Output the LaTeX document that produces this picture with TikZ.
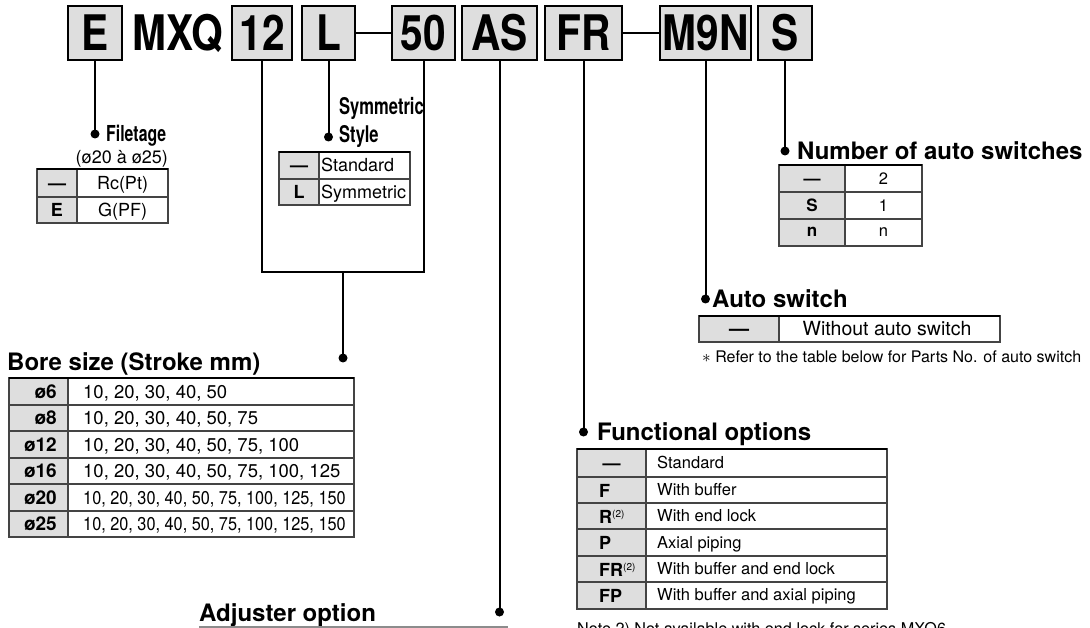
\documentclass[tikz,border=0pt]{standalone}
\usepackage{fontspec}
\setmainfont{TeX Gyre Heros}
\newfontfamily\hcond[FakeStretch=0.83]{TeX Gyre Heros}
\newfontfamily\tcond[FakeStretch=0.72]{TeX Gyre Heros}
\newfontfamily\vcond[FakeStretch=0.88]{TeX Gyre Heros}
\definecolor{boxgray}{HTML}{DEDEDE}
\definecolor{keygray}{HTML}{DEDEDE}
\definecolor{tgray}{HTML}{444444}
\newcommand{\fs}[1]{\fontsize{#1}{#1}\selectfont}
\newcommand{\suptwo}{{\mdseries\fs{10}\raisebox{6pt}{(2)}}}
\begin{document}
\begin{tikzpicture}[x=1pt,y=-1pt,
  hbox/.style={draw, line width=2.5pt, fill=boxgray, inner sep=0pt, minimum height=54pt,
    text height=35pt, text depth=0pt, font=\hcond\bfseries\fs{49}},
  htext/.style={inner sep=0pt, text height=35pt, text depth=0pt, font=\hcond\bfseries\fs{49}},
  conn/.style={line width=2pt},
  dotn/.style={circle, fill=black, inner sep=0pt, minimum size=9pt},
  title/.style={anchor=west, inner sep=0pt, text height=17pt, text depth=0pt, font=\bfseries\fs{24}},
  ctitle/.style={anchor=west, inner sep=0pt, text height=16pt, text depth=0pt, font=\tcond\bfseries\fs{23}},
  tline/.style={line width=1.1pt, draw=tgray},
  ttop/.style={line width=2pt, draw=black},
  cell/.style={inner sep=0pt, text height=13pt, text depth=0pt, font=\fs{18}},
  kcell/.style={cell, font=\bfseries\fs{18}},
]
\useasboundingbox (0,0) rectangle (1090,628);

% ---------- header ----------
\node[hbox, minimum width=54pt] (E) at (95,33) {E};
\node[htext] (MXQ) at (178,33) {MXQ};
\node[hbox, minimum width=60pt] (n12) at (262,33) {12};
\node[hbox, minimum width=53pt] (L) at (328.5,33) {L};
\node[hbox, minimum width=63pt] (n50) at (423.5,33) {50};
\node[hbox, minimum width=75pt] (AS) at (499.5,33) {AS};
\node[hbox, minimum width=77pt] (FR) at (583.5,33) {FR};
\node[hbox, minimum width=91pt] (M9N) at (705.5,33) {M9N};
\node[hbox, minimum width=54pt] (S) at (785,33) {S};
\draw[line width=2.5pt] (L.east) -- (n50.west);
\draw[line width=2.5pt] (FR.east) -- (M9N.west);

% ---------- connectors ----------
\node[dotn] (dE) at (E.south |- 0,134) {};
\draw[conn] (E.south) -- (dE.center);
\node[dotn] (dL) at (L.south |- 0,137) {};
\draw[conn] (L.south) -- (dL.center);
\coordinate (b1) at (n12.south |- 0,272);
\coordinate (b2) at (n50.south |- 0,272);
\draw[conn] (n12.south) -- (b1) -- (b2) -- (n50.south);
\node[dotn] (dB) at (343,358) {};
\coordinate (b3) at (dB |- 0,272);
\draw[conn] (b3) -- (dB.center);
\node[dotn] (dAS) at (AS.south |- 0,612) {};
\draw[conn] (AS.south) -- (dAS.center);
\node[dotn] (dFR) at (FR.south |- 0,432) {};
\draw[conn] (FR.south) -- (dFR.center);
\node[dotn] (dM) at (M9N.south |- 0,299) {};
\draw[conn] (M9N.south) -- (dM.center);
\node[dotn] (dS) at (S.south |- 0,151) {};
\draw[conn] (S.south) -- (dS.center);

% ---------- Filetage ----------
\node[ctitle, font=\tcond\bfseries\fs{22}, text height=16pt] (tFil) at (106,134) {Filetage};
\node[anchor=east, inner sep=0pt, text height=13pt, text depth=0pt, font=\fs{18}] (tFil2) at (168,157) {(ø20 à ø25)};
\fill[keygray] (37,169) rectangle (77,223);
\draw[tline] (37,169) rectangle (168,223);
\draw[tline] (37,197) -- (168,197);
\draw[tline] (77,169) -- (77,223);
\draw[ttop] (37,169) -- (168,169);
\node[kcell] (fk1) at (57,183) {—};
\node[kcell] (fk2) at (57,210) {E};
\node[cell] (fv1) at (122.5,183) {Rc(Pt)};
\node[cell] (fv2) at (122.5,210) {G(PF)};

% ---------- Symmetric style ----------
\node[ctitle] (tSym1) at (339,107) {Symmetric};
\node[ctitle] (tSym2) at (339,135) {Style};
\fill[keygray] (279,152) rectangle (319,205);
\draw[tline] (279,152) rectangle (410,205);
\draw[tline] (279,179) -- (410,179);
\draw[tline] (319,152) -- (319,205);
\draw[ttop] (279,152) -- (410,152);
\node[kcell] (sk1) at (299,165.5) {—};
\node[kcell] (sk2) at (299,192) {L};
\node[cell, anchor=west] (sv1) at (321,165.5) {Standard};
\node[cell, anchor=west] (sv2) at (321,192) {Symmetric};

% ---------- Number of auto switches ----------
\node[title] (tNum) at (797,151) {Number of auto switches};
\fill[keygray] (779,165) rectangle (845,246);
\draw[tline] (779,165) rectangle (922,246);
\draw[tline] (779,192) -- (922,192);
\draw[tline] (779,219) -- (922,219);
\draw[tline] (845,165) -- (845,246);
\draw[ttop] (779,165) -- (922,165);
\node[kcell, font=\bfseries\fs{17}, text height=12pt] (nk1) at (812,178.5) {—};
\node[kcell, font=\bfseries\fs{17}, text height=12pt] (nk2) at (812,205.5) {S};
\node[kcell, font=\bfseries\fs{17}, text height=9pt] (nk3) at (812,232.5) {n};
\node[cell, font=\fs{16.5}, text height=12pt] (nv1) at (883.5,178.5) {2};
\node[cell, font=\fs{16.5}, text height=12pt] (nv2) at (883.5,205.5) {1};
\node[cell, font=\fs{16.5}, text height=9pt] (nv3) at (883.5,232.5) {n};

% ---------- Auto switch ----------
\node[title] (tAuto) at (712,299) {Auto switch};
\fill[keygray] (699,316) rectangle (779,342);
\draw[tline] (699,316) rectangle (1000,342);
\draw[tline] (779,316) -- (779,342);
\draw[ttop] (699,316) -- (1000,316);
\node[kcell, font=\bfseries\fs{20}] (ak1) at (739,329) {—};
\node[cell, font=\fs{19.5}, text height=14pt] (av1) at (887,329) {Without auto switch};
\node[anchor=west, inner sep=0pt, text height=11pt, text depth=0pt, font=\fs{16}] (aNote) at (702,357) {$\ast$ Refer to the table below for Parts No. of auto switch};

% ---------- Bore size ----------
\node[title] (tBore) at (7,362) {Bore size (Stroke mm)};
\fill[keygray] (9,378) rectangle (68,537);
\draw[tline] (9,378) rectangle (354,537);
\foreach \yy in {405,431,458,484,511} \draw[tline] (9,\yy) -- (354,\yy);
\draw[tline] (68,378) -- (68,537);
\draw[ttop] (9,378) -- (354,378);
\node[kcell, anchor=east, font=\bfseries\fs{19}] (bk1) at (57,391.5) {ø6};
\node[kcell, anchor=east, font=\bfseries\fs{19}] (bk2) at (57,418) {ø8};
\node[kcell, anchor=east, font=\bfseries\fs{19}] (bk3) at (57,444.5) {ø12};
\node[kcell, anchor=east, font=\bfseries\fs{19}] (bk4) at (57,471) {ø16};
\node[kcell, anchor=east, font=\bfseries\fs{19}] (bk5) at (57,497.5) {ø20};
\node[kcell, anchor=east, font=\bfseries\fs{19}] (bk6) at (57,524) {ø25};
\node[cell, anchor=west, font=\fs{18.5}] (bv1) at (83,391.5) {10, 20, 30, 40, 50};
\node[cell, anchor=west, font=\fs{18.5}] (bv2) at (83,418) {10, 20, 30, 40, 50, 75};
\node[cell, anchor=west, font=\fs{18.5}] (bv3) at (83,444.5) {10, 20, 30, 40, 50, 75, 100};
\node[cell, anchor=west, font=\fs{18.5}] (bv4) at (83,471) {10, 20, 30, 40, 50, 75, 100, 125};
\node[cell, anchor=west, font=\vcond\fs{18.5}] (bv5) at (83,497.5) {10, 20, 30, 40, 50, 75, 100, 125, 150};
\node[cell, anchor=west, font=\vcond\fs{18.5}] (bv6) at (83,524) {10, 20, 30, 40, 50, 75, 100, 125, 150};

% ---------- Functional options ----------
\node[title] (tFun) at (597,432) {Functional options};
\fill[keygray] (577,449) rectangle (646,609);
\draw[tline] (577,449) rectangle (887,609);
\foreach \yy in {477,503,529,556,582} \draw[tline] (577,\yy) -- (887,\yy);
\draw[tline] (646,449) -- (646,609);
\draw[ttop] (577,449) -- (887,449);
\node[kcell] (ok1) at (611.5,463) {—};
\node[kcell, anchor=west] (ok2) at (599,491) {F};
\node[kcell, anchor=west] (ok3) at (599,517) {R\suptwo};
\node[kcell, anchor=west] (ok4) at (599,543) {P};
\node[kcell, anchor=west] (ok5) at (599,570) {FR\suptwo};
\node[kcell, anchor=west] (ok6) at (599,596) {FP};
\node[cell, anchor=west, font=\fs{16.5}, text height=12pt] (ov1) at (657,462) {Standard};
\node[cell, anchor=west, font=\fs{16.5}, text height=12pt] (ov2) at (657,489) {With buffer};
\node[cell, anchor=west, font=\fs{16.5}, text height=12pt] (ov3) at (657,515) {With end lock};
\node[cell, anchor=west, font=\fs{16.5}, text height=12pt] (ov4) at (657,542) {Axial piping};
\node[cell, anchor=west, font=\fs{16.5}, text height=12pt] (ov5) at (657,568) {With buffer and end lock};
\node[cell, anchor=west, font=\fs{16.5}, text height=12pt] (ov6) at (657,594) {With buffer and axial piping};
\node[anchor=base west, inner sep=0pt, font=\fs{16.2}] (oNote) at (577,634) {Note 2) Not available with end lock for series MXQ6};

% ---------- Adjuster option ----------
\node[title] (tAdj) at (199,613) {Adjuster option};
\draw[line width=1.5pt, black!45] (199,627) -- (508,627);
\end{tikzpicture}
\end{document}
